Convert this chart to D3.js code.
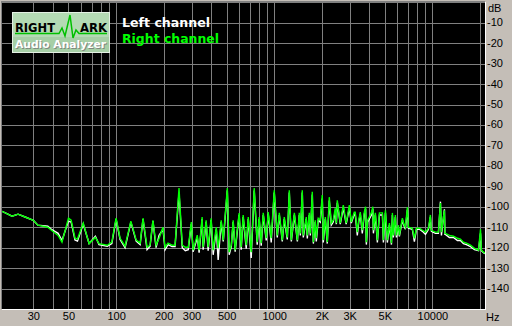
<!DOCTYPE html>
<html>
<head>
<meta charset="utf-8">
<script src="https://cdnjs.cloudflare.com/ajax/libs/d3/7.8.5/d3.min.js"></script>
<style>
  html, body { margin: 0; padding: 0; background: #c4beb7; }
  svg { display: block; }
  .tick-label { font-family: "Liberation Sans", Arial, sans-serif; font-size: 11px; fill: #000; }
</style>
</head>
<body>
<script>
// spectrum, frequency in Hz, level in dB
var freqs = [19, 22, 24, 26.6, 30, 32, 37, 39, 43, 45.5, 50, 52, 55, 57, 62, 67.5, 74, 78, 88, 94,
  100, 106, 114, 124, 134, 142, 148, 157, 164, 171, 179, 187, 198, 204, 213, 226, 236, 250, 262, 274,
  286, 299, 307, 326, 335, 350, 355, 371, 382, 399, 411, 430, 442, 462, 476, 505, 519, 535, 550, 566,
  583, 600, 618, 636, 665, 685, 715, 747, 780, 803, 827, 852, 890, 916, 957, 1000, 1045, 1076, 1124, 1157,
  1209, 1245, 1282, 1340, 1400, 1440, 1462, 1504, 1526, 1594, 1618, 1666, 1691, 1740, 1767, 1817, 1844, 1898, 1953, 2012,
  2042, 2103, 2164, 2228, 2294, 2361, 2431, 2470, 2503, 2614, 2732, 2850, 2984, 3070, 3206, 3250, 3350, 3420, 3499, 3603,
  3712, 3780, 3822, 3900, 4111, 4200, 4236, 4357, 4487, 4624, 4830, 4898, 5047, 5188, 5346, 5508, 5584, 5663, 5834, 5920, 6095, 6180,
  6457, 6600, 6745, 6950, 7050, 7464, 7691, 7925, 8279, 8650, 9036, 9441, 9707, 9850, 10450, 10910, 11240, 11400, 11910, 12000, 12080, 12810,
  13580, 14400, 15030, 15710, 16410, 17400, 18450, 19560, 20140, 20400, 21040, 21500];

var rightDb = [-102.2, -104.6, -103.6, -105, -106.6, -109, -110, -111.5, -114, -117.3, -105.6, -106.6, -115.4, -115.8, -108, -118, -115, -118, -118.8, -117.3,
  -105.6, -115.4, -119.3, -107, -116.3, -117.8, -105.6, -119.8, -118.8, -106.6, -118.8, -115.4, -110, -119.8, -117.8, -118.8, -118.8, -90.9, -118.8, -119.8,
  -119.8, -107.5, -121.2, -113.9, -121.2, -105, -119.8, -106.6, -119.8, -105.6, -121.2, -110, -120.3, -106.6, -116.3, -90.9, -122.2, -118.8, -106.6, -121.2,
  -111.5, -103.1, -119.8, -104.1, -118.8, -105, -122.2, -90.9, -117.3, -105, -117.8, -103, -115.4, -102.6, -115.4, -91.9, -114, -103, -116.3, -105,
  -115, -91.9, -116.3, -103, -116.3, -103, -113, -91.9, -114, -105, -114, -103, -113, -92.7, -117.3, -106.6, -115.4, -105.6, -106.6, -94.3,
  -116.3, -105, -117.3, -95.3, -108, -106.6, -100.7, -108, -96.8, -108, -99.2, -108, -99.2, -107.5, -102.6, -102.6, -112.4, -106.6, -102.6, -111.5,
  -102.6, -100, -117.3, -106.6, -103, -100, -111.5, -103, -116.3, -103, -103, -116.3, -101.7, -116.3, -108, -117.8, -103, -114, -104, -114, -109, -114,
  -105.6, -108.5, -110, -100.2, -110, -110.5, -115.4, -110.5, -110.5, -111.5, -112.4, -110.5, -104, -111.5, -112.4, -112.4, -98.2, -112.4, -101.7, -113, -113, -114,
  -114.4, -115.4, -115.8, -117.3, -117.8, -118.8, -120.3, -121.2, -111, -121.2, -122.2, -122.7];

var leftDb = [-102.2, -104.6, -103.6, -105, -106.6, -109, -109.5, -111, -113, -116.5, -107, -107.5, -116.3, -116.8, -108.5, -118, -114.4, -118.5, -119.3, -118,
  -106, -116, -120, -107.5, -116.8, -118.5, -106, -121, -119.3, -107, -120, -114, -111, -121, -118.5, -119.5, -119.5, -93, -120, -121.5,
  -121, -108.5, -122, -115, -122.5, -106, -121, -107.5, -121.5, -106.5, -123.5, -111, -126, -107.5, -117, -92, -123.5, -119.5, -107.5, -122,
  -112.5, -104, -121, -105, -120.5, -106, -125, -92, -118.5, -106, -119, -104, -116.5, -103.5, -117.5, -93, -115, -104, -117, -106,
  -116, -93, -117, -104, -117, -104, -114, -93, -115, -106, -115.5, -104, -114, -94, -118, -107.5, -117, -106.5, -107.5, -96,
  -117.5, -106, -118, -97, -109, -107.5, -102, -108.5, -98, -108.5, -100.5, -108.5, -100.5, -108, -103.5, -103.5, -114, -107.5, -103.5, -113,
  -103.5, -101, -118.5, -107.5, -104, -101, -113, -104, -117.5, -104, -104, -117.5, -103, -117.5, -109, -118.5, -104, -115, -105, -115, -110, -114.5,
  -106.5, -109, -111, -101.5, -110.5, -111, -117, -111, -111, -112, -113.5, -111, -105, -112, -113, -113, -97.5, -114, -101.2, -113.5, -113.5, -115,
  -115, -116.5, -116.5, -118, -118.5, -119.5, -121, -121.5, -113, -121.5, -122.5, -123];

var dbTicks = [-10, -20, -30, -40, -50, -60, -70, -80, -90, -100, -110, -120, -130, -140];
var freqGrid = [30, 40, 50, 60, 70, 80, 90, 100, 200, 300, 400, 500, 600, 700, 800, 900,
  1000, 2000, 3000, 4000, 5000, 6000, 7000, 8000, 9000, 10000, 20000];
var freqTicks = [30, 50, 100, 200, 300, 500, 1000, 2000, 3000, 5000, 10000];
var freqTickLabels = ["30", "50", "100", "200", "300", "500", "1000", "2K", "3K", "5K", "10000"];
var channelNames = ["Left channel", "Right channel"];
var channelColors = ["#ffffff", "#00ff00"];

var W = 512, H = 326,
    plot = {left: 2, top: 2, right: 485, bottom: 309};

var svg = d3.select("body").append("svg")
    .attr("width", W)
    .attr("height", H);

var x = d3.scaleLog().domain([19, 21500]).range([plot.left, plot.right]);
var y = d3.scaleLinear().domain([0, -150]).range([plot.top + 0.3, plot.bottom]);

// plot background
svg.append("rect")
    .attr("x", plot.left).attr("y", plot.top)
    .attr("width", plot.right - plot.left).attr("height", plot.bottom - plot.top)
    .attr("fill", "#000");

// grid
var grid = svg.append("g").attr("stroke", "#808080").attr("stroke-width", 1).attr("shape-rendering", "crispEdges");
grid.selectAll(".hg")
    .data(d3.range(0, -150, -10))
    .enter().append("line")
    .attr("x1", plot.left).attr("x2", plot.right)
    .attr("y1", function (d) { return Math.round(y(d)) + 0.5; })
    .attr("y2", function (d) { return Math.round(y(d)) + 0.5; });
grid.selectAll(".vg")
    .data(freqGrid)
    .enter().append("line")
    .attr("y1", plot.top).attr("y2", plot.bottom)
    .attr("x1", function (d) { return Math.round(x(d)) + 0.5; })
    .attr("x2", function (d) { return Math.round(x(d)) + 0.5; });

// frame: light right/bottom edge, grey left edge
svg.append("path")
    .attr("d", "M" + (plot.right + 0.5) + "," + plot.top + "V" + (plot.bottom + 0.5) + "H" + plot.left)
    .attr("fill", "none").attr("stroke", "#ffffff").attr("shape-rendering", "crispEdges");
svg.append("path")
    .attr("d", "M" + (plot.left - 0.5) + "," + (plot.bottom) + "V" + (plot.top - 0.5) + "H" + plot.right)
    .attr("fill", "none").attr("stroke", "#808080").attr("shape-rendering", "crispEdges");

// curves
svg.append("clipPath").attr("id", "clip")
  .append("rect")
    .attr("x", plot.left).attr("y", plot.top)
    .attr("width", plot.right - plot.left).attr("height", plot.bottom - plot.top);

var line = d3.line()
    .x(function (d) { return x(d[0]); })
    .y(function (d) { return y(d[1]); });

[leftDb, rightDb].forEach(function (vals, i) {
  svg.append("path")
      .datum(freqs.map(function (f, k) { return [f, vals[k]]; }))
      .attr("clip-path", "url(#clip)")
      .attr("fill", "none")
      .attr("stroke", channelColors[i])
      .attr("stroke-width", 1.4)
      .attr("stroke-linejoin", "miter")
      .attr("d", line);
});

// y labels on the right
svg.selectAll(".ylab")
    .data(dbTicks)
    .enter().append("text")
    .attr("class", "tick-label")
    .attr("x", plot.right + 2)
    .attr("y", function (d) { return y(d) + 3.5; })
    .text(function (d) { return d; });
svg.append("text")
    .attr("class", "tick-label")
    .attr("x", plot.right + 3)
    .attr("y", 12)
    .text("dB");

// x labels
svg.selectAll(".xlab")
    .data(freqTicks)
    .enter().append("text")
    .attr("class", "tick-label")
    .attr("text-anchor", "middle")
    .attr("x", function (d) { return x(d) + 0.5; })
    .attr("y", 320)
    .text(function (d, i) { return freqTickLabels[i]; });
svg.append("text")
    .attr("class", "tick-label")
    .attr("x", plot.right + 1)
    .attr("y", 321)
    .text("Hz");

// RightMark logo
var logo = svg.append("g").attr("transform", "translate(12,12)");
logo.append("rect")
    .attr("x", 0.5).attr("y", 0.5).attr("width", 97).attr("height", 40)
    .attr("fill", "#b4dab4").attr("stroke", "#e4f0e4");
logo.append("rect")
    .attr("x", 1).attr("y", 25).attr("width", 96).attr("height", 15)
    .attr("fill", "#a6cfa6");
logo.append("path")
    .attr("d", "M3,21.5H47L50,16L53,24L58,3L61,26L64,18L67,21.5H95")
    .attr("fill", "none").attr("stroke", "#00c000").attr("stroke-width", 1.5);
logo.append("text")
    .attr("x", 3).attr("y", 19.5)
    .attr("textLength", 40).attr("lengthAdjust", "spacingAndGlyphs")
    .style("font", "bold 12px 'DejaVu Sans', sans-serif").attr("fill", "#000")
    .text("RIGHT");
logo.append("text")
    .attr("x", 68).attr("y", 19.5)
    .attr("textLength", 27).attr("lengthAdjust", "spacingAndGlyphs")
    .style("font", "bold 12px 'DejaVu Sans', sans-serif").attr("fill", "#000")
    .text("ARK");
logo.append("text")
    .attr("x", 4).attr("y", 36.5)
    .attr("textLength", 91).attr("lengthAdjust", "spacingAndGlyphs")
    .style("font", "bold 11px 'DejaVu Sans', sans-serif").attr("fill", "#808880")
    .text("Audio Analyzer");
logo.append("text")
    .attr("x", 3).attr("y", 35.5)
    .attr("textLength", 91).attr("lengthAdjust", "spacingAndGlyphs")
    .style("font", "bold 11px 'DejaVu Sans', sans-serif").attr("fill", "#ffffff")
    .text("Audio Analyzer");

// legend
svg.selectAll(".legend")
    .data(channelNames)
    .enter().append("text")
    .attr("x", 122)
    .attr("y", function (d, i) { return 27 + i * 16; })
    .attr("textLength", function (d, i) { return i ? 97 : 88; })
    .attr("lengthAdjust", "spacingAndGlyphs")
    .style("font", "bold 12px 'DejaVu Sans', sans-serif")
    .attr("fill", function (d, i) { return channelColors[i]; })
    .text(function (d) { return d; });
</script>
</body>
</html>
